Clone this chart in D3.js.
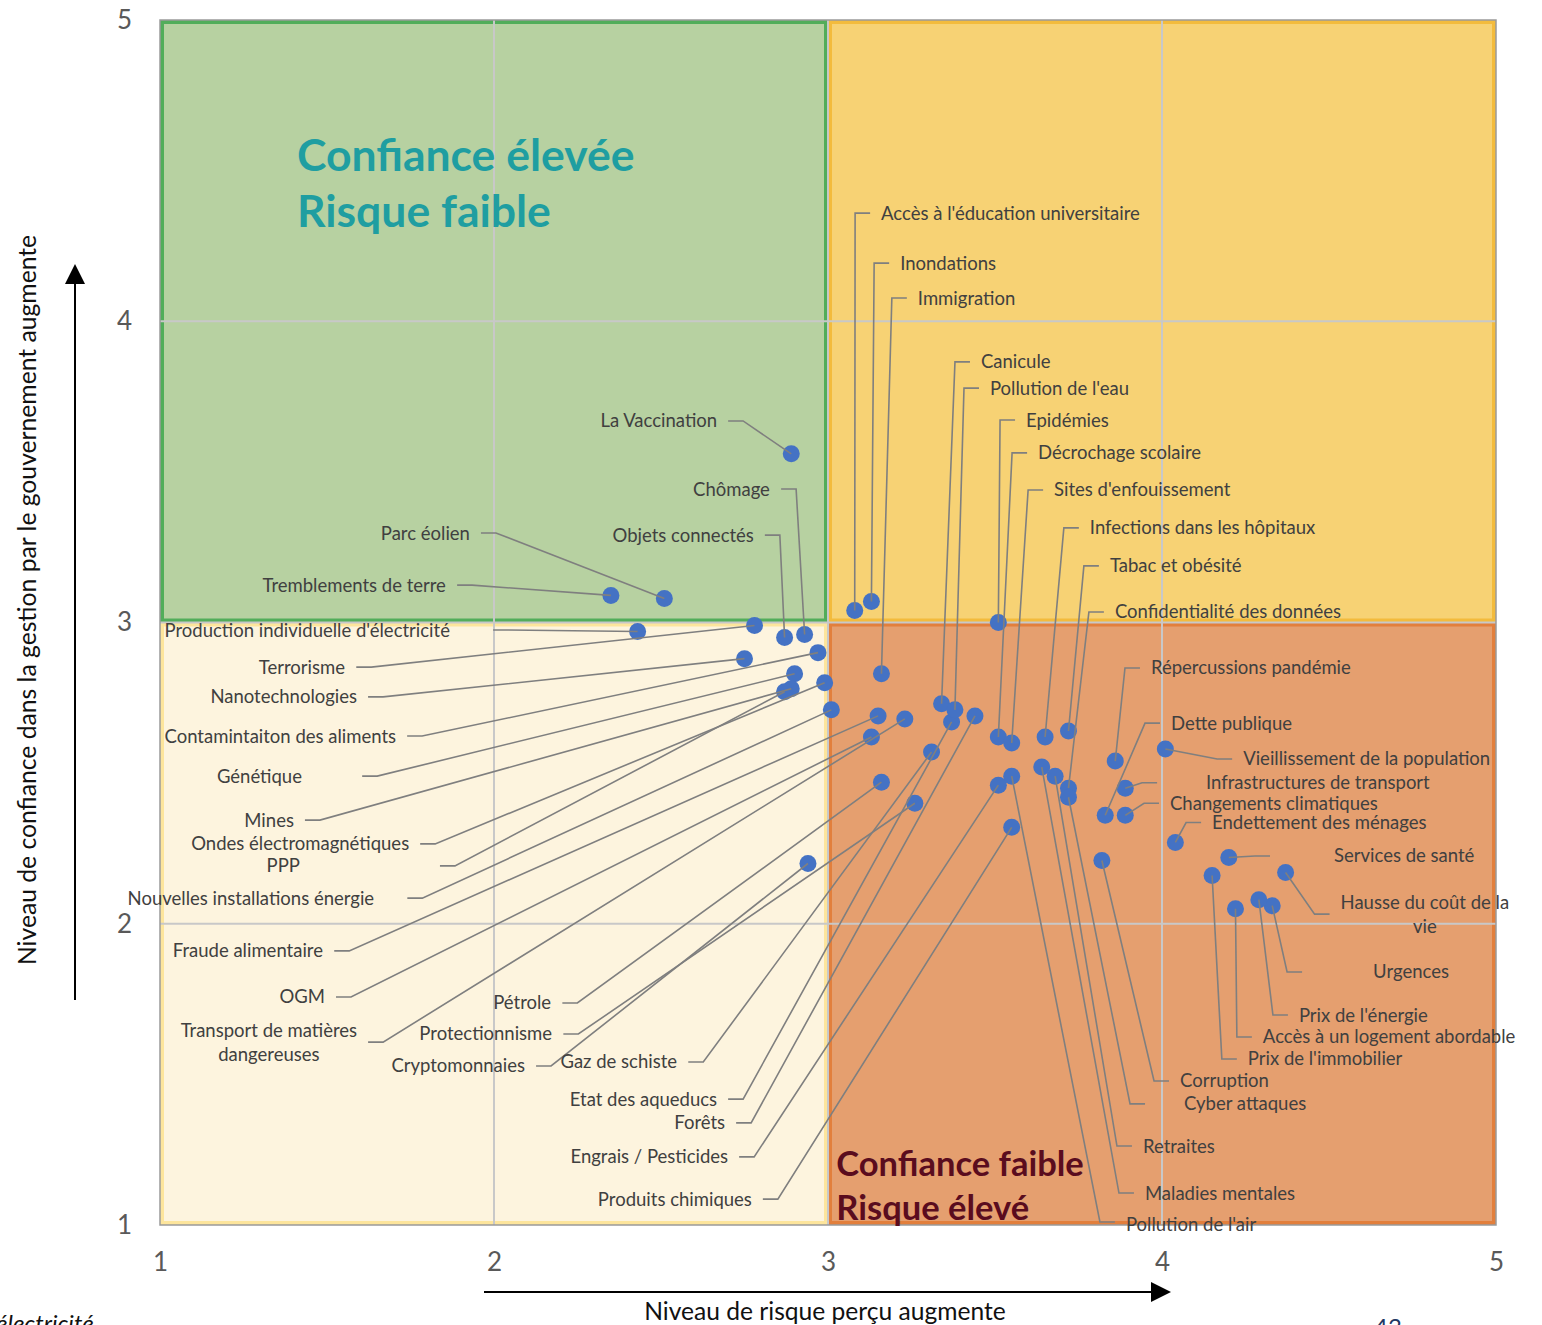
<!DOCTYPE html>
<html>
<head>
<meta charset="utf-8">
<script src="https://cdn.jsdelivr.net/npm/d3@7"></script>
<style>
body { margin: 0; background: #fff; }
svg { display: block; font-family: Lato, "Open Sans", sans-serif; }
</style>
</head>
<body>
<svg id="chart" width="1542" height="1325"></svg>
<script>
// ---- data ----
var xTicks = [1, 2, 3, 4, 5];
var yTicks = [1, 2, 3, 4, 5];

var topics = [
	"La Vaccination", "Chômage", "Parc éolien", "Objets connectés", "Tremblements de terre",
	"Production individuelle d'électricité", "Terrorisme", "Nanotechnologies", "Contamintaiton des aliments",
	"Génétique", "Mines", "Ondes électromagnétiques", "PPP", "Nouvelles installations énergie",
	"Fraude alimentaire", "OGM", "Transport de matières\ndangereuses",
	"Pétrole", "Protectionnisme", "Cryptomonnaies", "Gaz de schiste", "Etat des aqueducs", "Forêts",
	"Engrais / Pesticides", "Produits chimiques",
	"Accès à l'éducation universitaire", "Inondations", "Immigration", "Canicule", "Pollution de l'eau",
	"Epidémies", "Décrochage scolaire", "Sites d'enfouissement", "Infections dans les hôpitaux",
	"Tabac et obésité", "Confidentialité des données",
	"Répercussions pandémie", "Dette publique", "Vieillissement de la population", "Infrastructures de transport",
	"Changements climatiques", "Endettement des ménages", "Services de santé", "Hausse du coût de la\nvie",
	"Urgences", "Prix de l'énergie", "Accès à un logement abordable", "Prix de l'immobilier", "Corruption",
	"Cyber attaques", "Retraites", "Maladies mentales", "Pollution de l'air"
];

// perceived risk (x)
var risk = [
	2.89, 2.93, 2.51, 2.87, 2.35,
	2.43, 2.78, 2.75, 2.97, 2.90, 2.89, 2.99, 2.87, 3.01, 3.15, 3.13, 3.23,
	3.16, 3.26, 2.94, 3.31, 3.37, 3.44, 3.51, 3.55,
	3.08, 3.13, 3.16, 3.34, 3.38, 3.51, 3.51, 3.55, 3.65, 3.72, 3.72,
	3.86, 3.83, 4.01, 3.89, 3.89, 4.04, 4.20, 4.37,
	4.33, 4.29, 4.22, 4.15, 3.82, 3.72, 3.68, 3.64, 3.55
];

// confidence in government (y)
var confidence = [
	3.56, 2.96, 3.08, 2.95, 3.09,
	2.97, 2.99, 2.88, 2.90, 2.83, 2.78, 2.80, 2.77, 2.71, 2.69, 2.62, 2.68,
	2.47, 2.40, 2.20, 2.57, 2.67, 2.69, 2.46, 2.32,
	3.04, 3.07, 2.83, 2.73, 2.71, 3.00, 2.62, 2.60, 2.62, 2.64, 2.45,
	2.54, 2.36, 2.58, 2.45, 2.36, 2.27, 2.22, 2.17,
	2.06, 2.08, 2.05, 2.16, 2.21, 2.42, 2.49, 2.52, 2.49
];

// where each label sits, in data units
var labelX = [
	2.668, 2.826, 1.928, 2.778, 1.856,
	1.868, 1.554, 1.590, 1.707, 1.425, 1.401, 1.746, 1.419, 1.641, 1.488, 1.494, 1.326,
	2.171, 2.174, 2.093, 2.548, 2.668, 2.692, 2.701, 2.772,
	3.159, 3.216, 3.269, 3.458, 3.485, 3.593, 3.629, 3.677, 3.784, 3.844, 3.859,
	3.967, 4.027, 4.243, 4.132, 4.024, 4.150, 4.515, 4.787,
	4.632, 4.410, 4.302, 4.257, 4.054, 4.066, 3.943, 3.949, 3.892
];
var labelY = [
	3.669, 3.443, 3.297, 3.290, 3.124,
	2.975, 2.852, 2.753, 2.623, 2.490, 2.344, 2.265, 2.192, 2.085, 1.910, 1.757, 1.607,
	1.737, 1.634, 1.528, 1.541, 1.418, 1.339, 1.226, 1.086,
	4.359, 4.193, 4.077, 3.865, 3.778, 3.672, 3.563, 3.440, 3.314, 3.188, 3.035,
	2.849, 2.666, 2.547, 2.468, 2.400, 2.336, 2.225, 2.032,
	1.840, 1.697, 1.624, 1.551, 1.478, 1.402, 1.262, 1.106, 1.000
];

var quadrants = [
	{ x0: 1, x1: 3, y0: 3, y1: 5, fill: "#b7d1a1", edge: "#52ad5a" },
	{ x0: 3, x1: 5, y0: 3, y1: 5, fill: "#f7d274", edge: "#f3bb3c" },
	{ x0: 1, x1: 3, y0: 1, y1: 3, fill: "#fdf4de", edge: "#fde59c" },
	{ x0: 3, x1: 5, y0: 1, y1: 3, fill: "#e59f6f", edge: "#e27f3c" }
];

// ---- drawing ----
var svg = d3.select("#chart");

var x = d3.scaleLinear().domain([1, 5]).range([160, 1496]);
var y = d3.scaleLinear().domain([1, 5]).range([1225, 20]);

// quadrant backgrounds
svg.append("g").selectAll("rect")
	.data(quadrants)
	.enter().append("rect")
	.attr("x", function(d) { return x(d.x0) + 2; })
	.attr("y", function(d) { return y(d.y1) + 2; })
	.attr("width", function(d) { return x(d.x1) - x(d.x0) - 4; })
	.attr("height", function(d) { return y(d.y0) - y(d.y1) - 4; })
	.style("fill", function(d) { return d.fill; })
	.style("stroke", function(d) { return d.edge; })
	.style("stroke-width", 4);

// grid
var grid = svg.append("g").style("stroke", "#c8c8c8").style("stroke-width", 2);
grid.selectAll("line.v")
	.data(xTicks.slice(1, -1))
	.enter().append("line")
	.attr("x1", function(d) { return x(d); }).attr("x2", function(d) { return x(d); })
	.attr("y1", y(5)).attr("y2", y(1));
grid.selectAll("line.h")
	.data(yTicks.slice(1, -1))
	.enter().append("line")
	.attr("y1", function(d) { return y(d); }).attr("y2", function(d) { return y(d); })
	.attr("x1", x(1)).attr("x2", x(5));

svg.append("rect")
	.attr("x", x(1)).attr("y", y(5))
	.attr("width", x(5) - x(1)).attr("height", y(1) - y(5))
	.style("fill", "none").style("stroke", "#9a9a9a").style("stroke-width", 1.5);

// axes
var yAxis = svg.append("g")
	.attr("transform", "translate(" + x(1) + ",0)")
	.call(d3.axisLeft(y).tickValues(yTicks).tickSize(0).tickPadding(28).tickFormat(d3.format("d")));
var xAxis = svg.append("g")
	.attr("transform", "translate(0," + y(1) + ")")
	.call(d3.axisBottom(x).tickValues(xTicks).tickSize(0).tickPadding(28).tickFormat(d3.format("d")));
[xAxis, yAxis].forEach(function(a) {
	a.select(".domain").remove();
	a.selectAll("text")
		.style("font-family", "Lato, sans-serif")
		.style("font-size", "26px")
		.style("fill", "#595959");
});

// quadrant titles
var titles = svg.append("g").style("font-weight", "bold");
titles.append("text").attr("x", x(1.41)).attr("y", y(4.50))
	.style("font-size", "44.5px").style("fill", "#1f9ea1").text("Confiance élevée");
titles.append("text").attr("x", x(1.41)).attr("y", y(4.313))
	.style("font-size", "44.5px").style("fill", "#1f9ea1").text("Risque faible");
titles.append("text").attr("x", x(3.025)).attr("y", y(1.163))
	.style("font-size", "34.5px").style("fill", "#5a0c1e").text("Confiance faible");
titles.append("text").attr("x", x(3.025)).attr("y", y(1.015))
	.style("font-size", "34.5px").style("fill", "#5a0c1e").text("Risque élevé");

// points
var points = svg.append("g");
points.selectAll("circle")
	.data(topics)
	.enter().append("circle")
	.attr("cx", function(d, i) { return x(risk[i]); })
	.attr("cy", function(d, i) { return y(confidence[i]); })
	.attr("r", 8.5)
	.style("fill", "#4472c4");

// labels + leader lines
var leaders = svg.append("g")
	.style("fill", "none")
	.style("stroke", "#7f7f7f")
	.style("stroke-width", 1.6);
var labels = svg.append("g")
	.style("font-size", "18.5px")
	.style("fill", "#404040");

var gapFor = {
	"Production individuelle d'électricité": 43, "Génétique": 60, "PPP": 140,
	"Nouvelles installations énergie": 33, "Infrastructures de transport": 49,
	"Services de santé": 64, "Urgences": 71, "Cyber attaques": 39
};

topics.forEach(function(name, i) {
	var lx = x(labelX[i]), ly = y(labelY[i]);
	var anchor = i < 25 ? "end" : "start";
	var side = i < 25 ? "r" : "l";
	var lines = name.split("\n");
	if (lines.length > 1) anchor = "middle";

	var t = labels.append("text").attr("text-anchor", anchor);
	lines.forEach(function(l, k) {
		t.append("tspan")
			.attr("x", lx)
			.attr("y", ly + (k - (lines.length - 1) / 2) * 24)
			.attr("dy", "0.35em")
			.text(l);
	});

	var bb = t.node().getBBox();
	var gap = gapFor[name] || 11;
	var ax = side == "r" ? bb.x + bb.width + gap : bb.x - gap;
	var ex = side == "r" ? ax + 15 : ax - 15;
	var ay = ly - (i == topics.length - 1 ? 3 : 0);

	leaders.append("polyline")
		.attr("points", [[ax, ay], [ex, ay], [x(risk[i]), y(confidence[i])]].join(" "));
});

// axis arrows and titles
var arrows = svg.append("g");
arrows.append("line").attr("x1", 75).attr("y1", 1000).attr("x2", 75).attr("y2", 282)
	.style("stroke", "#000").style("stroke-width", 2);
arrows.append("path").attr("d", "M75,264 L65,284 L85,284 Z").style("fill", "#000");
arrows.append("line").attr("x1", 484).attr("y1", 1292).attr("x2", 1152).attr("y2", 1292)
	.style("stroke", "#000").style("stroke-width", 2);
arrows.append("path").attr("d", "M1171,1292 L1151,1282 L1151,1302 Z").style("fill", "#000");

svg.append("text")
	.attr("transform", "translate(36,600) rotate(-90)")
	.attr("text-anchor", "middle")
	.style("font-size", "24.7px").style("fill", "#111")
	.text("Niveau de confiance dans la gestion par le gouvernement augmente");

svg.append("text")
	.attr("x", 825).attr("y", 1320)
	.attr("text-anchor", "middle")
	.style("font-size", "24.6px").style("fill", "#111")
	.text("Niveau de risque perçu augmente");

// bits of the page that show at the bottom edge
svg.append("text").attr("x", -4).attr("y", 1332)
	.style("font-size", "24px").style("font-style", "italic").style("fill", "#111")
	.text("électricité");
svg.append("text").attr("x", 1374).attr("y", 1336)
	.style("font-size", "24px").style("fill", "#1f3864")
	.text("43");
</script>
</body>
</html>
